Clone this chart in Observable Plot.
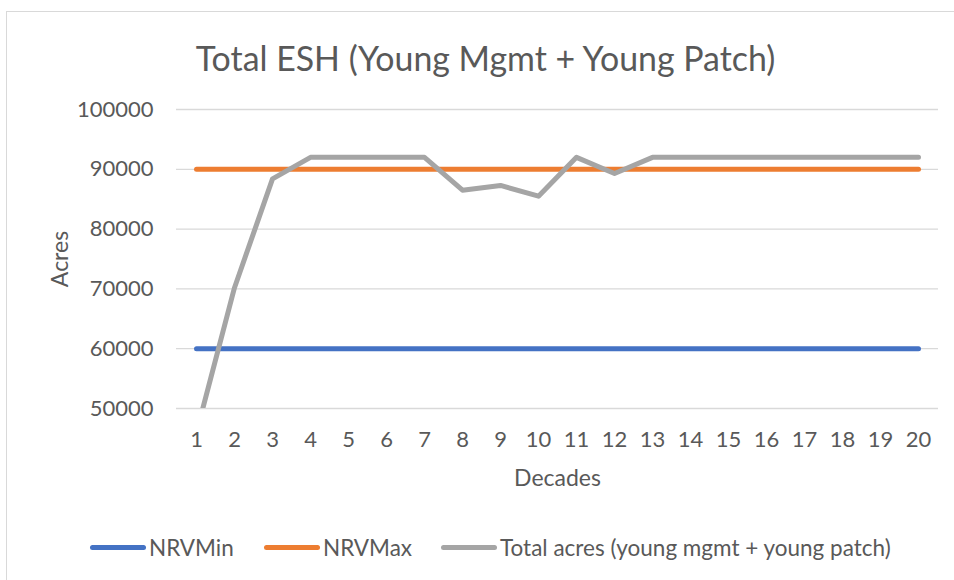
<!DOCTYPE html>
<html><head><meta charset="utf-8">
<script src="https://cdn.jsdelivr.net/npm/d3@7"></script>
<script src="https://cdn.jsdelivr.net/npm/@observablehq/plot@0.6"></script>
<style>
html,body{margin:0;padding:0;background:#fff;overflow:hidden}
#wrap{position:relative;width:954px;height:580px;font-family:Lato,"Open Sans",sans-serif;color:#595959}
#frame{position:absolute;left:6px;top:11px;width:980px;height:620px;border:1.5px solid #d9d9d9;box-sizing:border-box}
#chart{position:absolute;left:0;top:0}
#title{position:absolute;left:0;top:0;width:971px;text-align:center;white-space:nowrap;line-height:1}
.leg{position:absolute;top:536px;height:22px;display:flex;align-items:center;font-size:22.5px;white-space:nowrap}
.sw{display:inline-block;width:56px;height:5px;border-radius:3px;margin-right:3px}
</style></head>
<body><div id="wrap"><div id="frame"></div><div id="chart"></div><div id="title"></div><div id="legend"></div></div>
<script>
const titleText = "Total ESH (Young Mgmt + Young Patch)";
const xTitle = "Decades";
const yTitle = "Acres";
const decades = [1,2,3,4,5,6,7,8,9,10,11,12,13,14,15,16,17,18,19,20];
const nrvMin = [60000,60000,60000,60000,60000,60000,60000,60000,60000,60000,60000,60000,60000,60000,60000,60000,60000,60000,60000,60000];
const nrvMax = [90000,90000,90000,90000,90000,90000,90000,90000,90000,90000,90000,90000,90000,90000,90000,90000,90000,90000,90000,90000];
const totalAcres = [46000,70200,88400,92000,92000,92000,92000,86500,87300,85500,92000,89300,92000,92000,92000,92000,92000,92000,92000,92000];
const yTicks = [50000,60000,70000,80000,90000,100000];
const seriesNames = ["NRVMin","NRVMax","Total acres (young mgmt + young patch)"];
const seriesColors = ["#4472C4","#ED7D31","#A5A5A5"];
const seriesValues = [nrvMin, nrvMax, totalAcres];

const rows = seriesNames.flatMap((s, k) => decades.map((d, i) => ({decade: d, value: seriesValues[k][i], series: s})));

const chart = Plot.plot({
  width: 954, height: 580,
  marginTop: 109, marginBottom: 172, marginLeft: 176, marginRight: 16,
  style: {fontFamily: "Lato, 'Open Sans', sans-serif", fontSize: "22px", color: "#595959", background: "transparent", overflow: "visible"},
  x: {type: "point", domain: decades, padding: 0.5},
  y: {domain: [50000, 100000]},
  color: {domain: seriesNames, range: seriesColors},
  marks: [
    Plot.ruleY(yTicks, {stroke: "#d9d9d9", strokeWidth: 1.3}),
    Plot.axisY({ticks: yTicks, tickSize: 0, tickPadding: 23, tickFormat: d => String(d), label: null}),
    Plot.axisX({tickSize: 0, tickPadding: 23, label: null}),
    Plot.line(rows, {x: "decade", y: "value", z: "series", stroke: "series", strokeWidth: 5, strokeLinecap: "round", strokeLinejoin: "round", clip: true}),
    Plot.text([xTitle], {text: d => d, frameAnchor: "bottom", lineAnchor: "middle", textAnchor: "middle", dy: 70, fill: "#595959", fontSize: 23}),
    Plot.text([yTitle], {text: d => d, frameAnchor: "left", lineAnchor: "middle", textAnchor: "middle", dx: -116, rotate: -90, fill: "#595959", fontSize: 23})
  ]
});
document.getElementById("chart").appendChild(chart);

// title, fitted to the reference width
const t = document.getElementById("title");
t.textContent = titleText;
const cv = document.createElement("canvas").getContext("2d");
cv.font = "30px Lato";
const w = cv.measureText(titleText).width;
const fs = 30 * 581 / w;
t.style.fontSize = fs + "px";
t.style.top = (69 - fs * 0.8) + "px";

// legend
const legLeft = [90, 264, 441];
const leg = document.getElementById("legend");
seriesNames.forEach((s, k) => {
  const el = document.createElement("div");
  el.className = "leg";
  el.style.left = legLeft[k] + "px";
  const sw = document.createElement("span");
  sw.className = "sw";
  sw.style.background = seriesColors[k];
  el.appendChild(sw);
  el.appendChild(document.createTextNode(s));
  leg.appendChild(el);
});
</script></body></html>
